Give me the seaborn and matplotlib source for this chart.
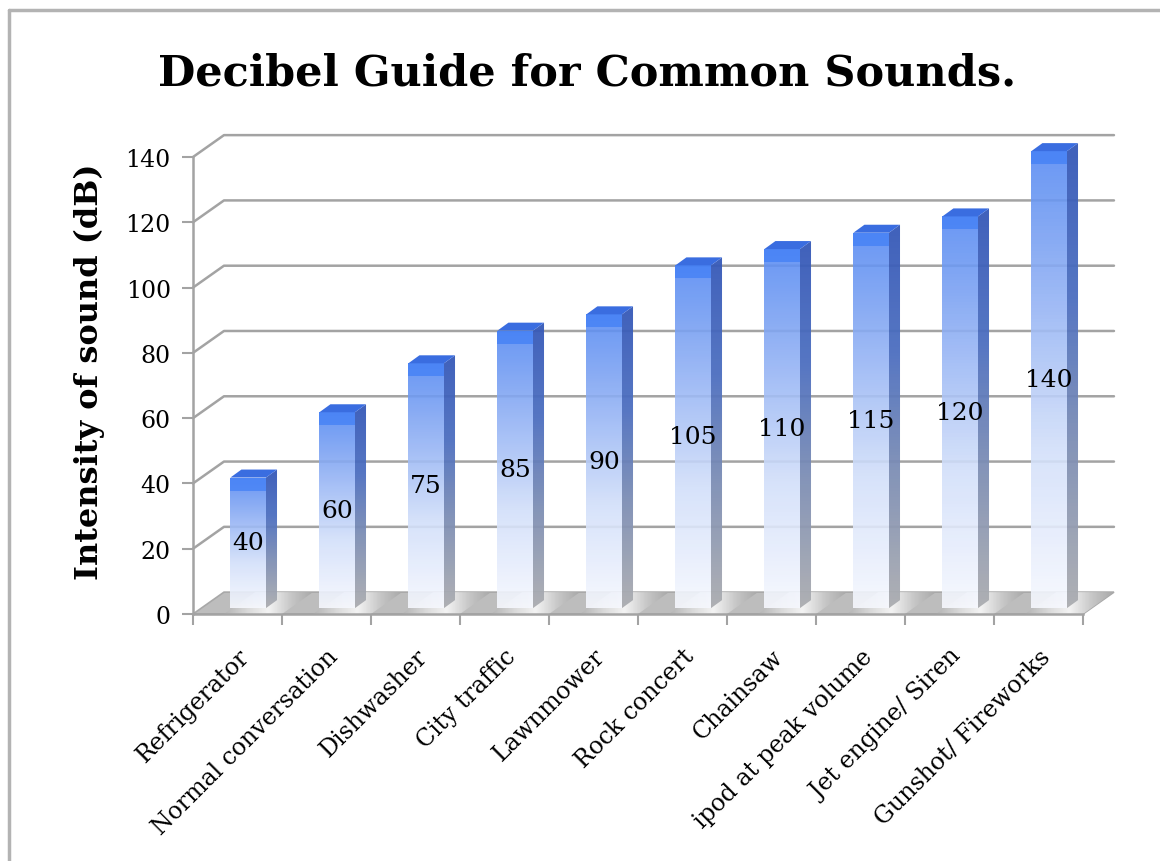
import numpy as np
import pandas as pd
import matplotlib.pyplot as plt
import seaborn as sns
from matplotlib.patches import Polygon
from matplotlib.colors import LinearSegmentedColormap

# --- Data ---
sounds = ["Refrigerator", "Normal conversation", "Dishwasher", "City traffic",
          "Lawnmower", "Rock concert", "Chainsaw", "ipod at peak volume",
          "Jet engine/ Siren", "Gunshot/ Fireworks"]
decibels = [40, 60, 75, 85, 90, 105, 110, 115, 120, 140]
y_ticks = [0, 20, 40, 60, 80, 100, 120, 140]

df = pd.DataFrame({"sound": sounds, "dB": decibels})

sns.set_theme(style="white")
plt.rcParams["font.family"] = ["DejaVu Serif"]
plt.rcParams["text.color"] = "black"
plt.rcParams["axes.labelcolor"] = "black"

# axes limits a bit larger than the visible frame so the 3d pieces are not clipped
x_lo, x_hi, y_top = -0.5, 9.9, 150
fig = plt.figure(figsize=(11.6, 8.62), dpi=100)
ax = fig.add_axes([193 / 1160, 1 - 615 / 862, 890 * 10.4 / 10 / 1160, 457 * 150 / 140 / 862])

sns.barplot(data=df, x="sound", y="dB", width=0.4, ax=ax, zorder=3)

# 3d-ish offsets (in data units)
wall_dx, wall_dy = 0.348, 6.7
bar_dx, bar_dy = 0.124, 2.45
shift, lift = 0.12, 1.8

# back wall gridlines
for t in y_ticks[1:]:
    ax.plot([-0.5, -0.5 + wall_dx, 9.5 + wall_dx], [t, t + wall_dy, t + wall_dy],
            color="#a3a3a3", lw=1.8, clip_on=False, zorder=1)

# floor
floor = Polygon([[-0.5, 0], [9.5, 0], [9.5 + wall_dx, wall_dy], [-0.5 + wall_dx, wall_dy]],
                closed=True, facecolor="#bdbdbd", edgecolor="#a8a8a8", lw=1.2,
                clip_on=False, zorder=1.5)
ax.add_patch(floor)
streak_cmap = LinearSegmentedColormap.from_list(
    "streak", ["#b4b4b4", "#d8d8d8", "#f4f4f4", "#c8c8c8", "#a9a9a9"])
for i in range(len(sounds)):
    band = Polygon([[i - 0.15, 0], [i + 0.5, 0], [i + 0.5 + wall_dx, wall_dy],
                    [i - 0.15 + wall_dx, wall_dy]], closed=True, facecolor="none",
                   edgecolor="none")
    ax.add_patch(band)
    xs = np.linspace(0, 1, 64)
    sim = ax.imshow(xs.reshape(1, -1), cmap=streak_cmap, aspect="auto",
                    extent=[i - 0.15, i + 0.5 + wall_dx, 0, wall_dy], zorder=1.6)
    sim.set_clip_path(band)

front_cmap = LinearSegmentedColormap.from_list(
    "front", [(0, "#f6f8fe"), (0.35, "#d2dffa"), (0.75, "#86a9f3"), (0.9, "#6a97f2"), (1, "#5a8cf4")])
side_cmap = LinearSegmentedColormap.from_list("side", ["#acadb0", "#8090b4", "#4d6fc0", "#3659b8"])
grad = np.linspace(0, 1, 128).reshape(-1, 1)

for p, val in zip(ax.patches, decibels):
    p.set_x(p.get_x() + shift)
    p.set_y(lift)
    x0, w, h = p.get_x(), p.get_width(), p.get_height()
    x1, y0, y1 = x0 + w, lift, lift + h
    p.set_facecolor("none")
    p.set_edgecolor("none")
    im = ax.imshow(grad, cmap=front_cmap, origin="lower", aspect="auto", alpha=0.9,
                   extent=[x0, x1, y0, y1], zorder=3)
    im.set_clip_path(p)
    # brighter band at the top of the front face
    cap = Polygon([[x0, y1 - 4], [x1, y1 - 4], [x1, y1], [x0, y1]], closed=True,
                  facecolor="#3f7ef6", edgecolor="none", alpha=0.7, zorder=3.1)
    ax.add_patch(cap)
    side = Polygon([[x1, y0], [x1 + bar_dx, y0 + bar_dy], [x1 + bar_dx, y1 + bar_dy], [x1, y1]],
                   closed=True, facecolor="none", edgecolor="none", zorder=3)
    ax.add_patch(side)
    sim = ax.imshow(grad, cmap=side_cmap, origin="lower", aspect="auto", alpha=0.95,
                    extent=[x1, x1 + bar_dx, y0, y1 + bar_dy], zorder=3)
    sim.set_clip_path(side)
    top = Polygon([[x0, y1], [x1, y1], [x1 + bar_dx, y1 + bar_dy], [x0 + bar_dx, y1 + bar_dy]],
                  closed=True, facecolor="#3a6de0", edgecolor="none", zorder=3.2)
    ax.add_patch(top)
    ax.text(x0 + w / 2, lift + val / 2, str(val), ha="center", va="center",
            fontsize=18, color="black", zorder=5)

ax.set_xlim(x_lo, x_hi)
ax.set_ylim(0, y_top)

# axes styling
for s in ["top", "right"]:
    ax.spines[s].set_visible(False)
for s in ["left", "bottom"]:
    ax.spines[s].set_color("#a3a3a3")
    ax.spines[s].set_linewidth(1.8)
    ax.spines[s].set_zorder(2)
ax.spines["left"].set_bounds(0, 140)
ax.spines["bottom"].set_bounds(-0.5, 9.5)

ax.set_yticks(y_ticks)
ax.tick_params(axis="y", which="major", direction="out", length=8, width=1.5,
               color="#a3a3a3", labelsize=17, labelcolor="black", pad=8, left=True)
ax.set_xticks(range(len(sounds)))
ax.set_xticklabels(sounds, rotation=45, ha="right", rotation_mode="anchor", fontsize=17)
ax.set_xticks(np.arange(-0.5, 10, 1), minor=True)
ax.tick_params(axis="x", which="major", length=0, pad=22, labelcolor="black")
ax.tick_params(axis="x", which="minor", direction="out", length=8, width=1.5,
               color="#a3a3a3", bottom=True)
ax.set_xlabel("")
ax.set_ylabel("Intensity of sound (dB)", fontsize=23, fontweight="bold", color="black")
ax.yaxis.set_label_coords(-88 / 925.6, (615 - 372) / (457 * 150 / 140))

fig.text(587 / 1160, 1 - 73 / 862, "Decibel Guide for Common Sounds.", ha="center",
         va="center", fontsize=31, fontweight="bold", color="black")

# outer frame (top and left edges visible)
fig.add_artist(plt.Line2D([9 / 1160, 1], [1 - 11 / 862, 1 - 11 / 862],
                          color="#b3b3b3", lw=2.5, transform=fig.transFigure))
fig.add_artist(plt.Line2D([9 / 1160, 9 / 1160], [0, 1 - 11 / 862],
                          color="#b3b3b3", lw=2.5, transform=fig.transFigure))

fig.savefig("out.png", dpi=100)
